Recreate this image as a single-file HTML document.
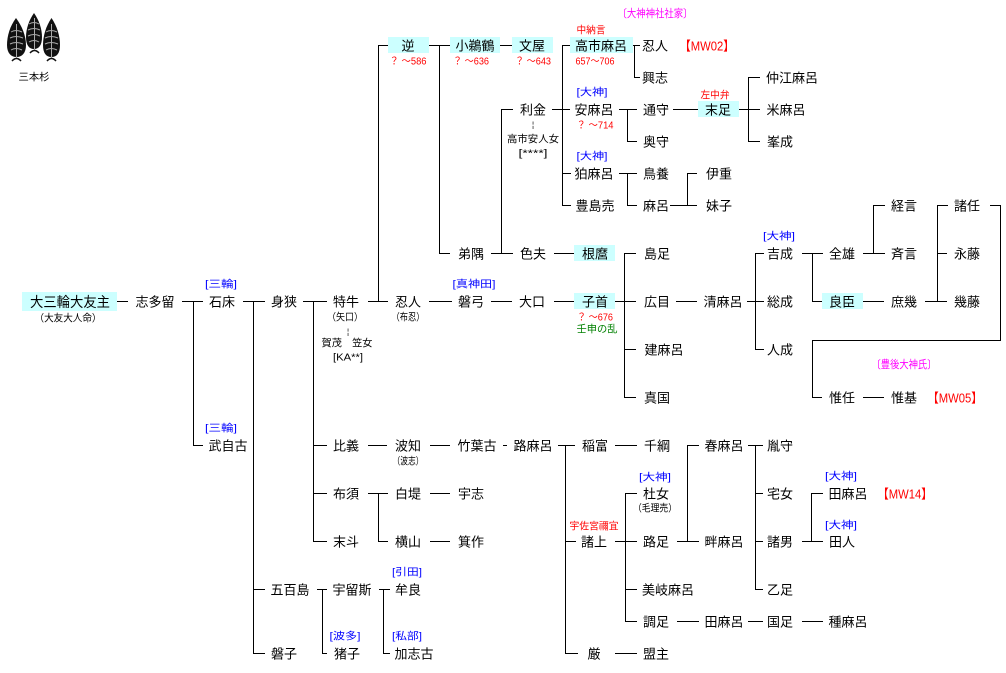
<!DOCTYPE html>
<html><head><meta charset="utf-8">
<style>
html,body{margin:0;padding:0;background:#fff;}
svg{display:block;}
text{font-family:"Liberation Sans","Noto Sans CJK JP",sans-serif;text-anchor:middle;dominant-baseline:central;fill:#000;}
.m{font-size:13px;}
.s{font-size:10px;}
.r{fill:#f00;}
.b{fill:#00f;}
.g{fill:#008000;}
.p{fill:#f0f;}
line{stroke:#000;stroke-width:1;shape-rendering:crispEdges;}
</style></head>
<body>
<svg width="1006" height="673" viewBox="0 0 1006 673" xmlns="http://www.w3.org/2000/svg">
<!-- crest -->
<g>
<path d="M16,18 C22,26 26,36 26,45 C26,53 22,57 16.5,57 C11,57 7,53 7,45 C7,36 10,26 16,18 Z" fill="#111"/>
<path d="M34,13 C39,20 42,29 42,37 C42,45 39,49 34,49 C29,49 26,45 26,37 C26,29 29,20 34,13 Z" fill="#111"/>
<path d="M51.5,18 C57,26 60,36 60,45 C60,53 57,57 51.5,57 C46,57 43,53 43,45 C43,36 46,26 51.5,18 Z" fill="#111"/>
<g stroke="#aaa" stroke-width="1" fill="none">
<line x1="16.5" y1="24" x2="16.5" y2="58" style="stroke:#aaa"/>
<line x1="34.5" y1="18" x2="34.5" y2="51" style="stroke:#aaa"/>
<line x1="51.5" y1="24" x2="51.5" y2="58" style="stroke:#aaa"/>
<path d="M11,32 Q16,29 22,32 M10,38 Q16,35 23,38 M10,44 Q16,41 23,44 M11,50 Q16,47 22,50"/>
<path d="M29,24 Q34,21 39,24 M28,30 Q34,27 40,30 M28,36 Q34,33 40,36 M29,42 Q34,39 39,42"/>
<path d="M46,32 Q51,29 57,32 M45,38 Q51,35 58,38 M45,44 Q51,41 58,44 M46,50 Q51,47 57,50"/>
</g>
<path d="M12,61 Q16.5,56 21,61 M30,53 Q34.5,48 39,53 M47,61 Q51.5,56 56,61" stroke="#111" stroke-width="1.5" fill="none"/>
</g>
<text x="34" y="78" style="font-size:10px" textLength="31" lengthAdjust="spacingAndGlyphs">三本杉</text>

<!-- highlight boxes -->
<g fill="#ccffff">
<rect x="22" y="292" width="95" height="19"/>
<rect x="388" y="37" width="41" height="16"/>
<rect x="450" y="37" width="50" height="16"/>
<rect x="512" y="37" width="41" height="16"/>
<rect x="570" y="37" width="63" height="16"/>
<rect x="698" y="101" width="41" height="16"/>
<rect x="574" y="245" width="41" height="16"/>
<rect x="574" y="293" width="41" height="16"/>
<rect x="822" y="293" width="41" height="16"/>
</g>

<!-- lines -->
<g>
<!-- row 301 -->
<line x1="117" y1="301.5" x2="128" y2="301.5"/>
<line x1="182" y1="301.5" x2="203" y2="301.5"/>
<line x1="243" y1="301.5" x2="265" y2="301.5"/>
<line x1="303" y1="301.5" x2="327" y2="301.5"/>
<line x1="368" y1="301.5" x2="388" y2="301.5"/>
<line x1="429" y1="301.5" x2="452" y2="301.5"/>
<line x1="491" y1="301.5" x2="512" y2="301.5"/>
<line x1="554" y1="301.5" x2="574" y2="301.5"/>
<line x1="615" y1="301.5" x2="636" y2="301.5"/>
<line x1="676" y1="301.5" x2="697" y2="301.5"/>
<line x1="747" y1="301.5" x2="764" y2="301.5"/>
<line x1="812" y1="301.5" x2="822" y2="301.5"/>
<line x1="863" y1="301.5" x2="884" y2="301.5"/>
<line x1="925" y1="301.5" x2="947" y2="301.5"/>
<!-- row 45 -->
<line x1="378" y1="45.5" x2="388" y2="45.5"/>
<line x1="429" y1="45.5" x2="450" y2="45.5"/>
<line x1="500" y1="45.5" x2="512" y2="45.5"/>
<line x1="562" y1="45.5" x2="570" y2="45.5"/>
<line x1="633" y1="45.5" x2="640" y2="45.5"/>
<!-- row 77 -->
<line x1="634" y1="77.5" x2="640" y2="77.5"/>
<line x1="748" y1="77.5" x2="760" y2="77.5"/>
<!-- row 109 -->
<line x1="501" y1="109.5" x2="513" y2="109.5"/>
<line x1="552" y1="109.5" x2="570" y2="109.5"/>
<line x1="619" y1="109.5" x2="637" y2="109.5"/>
<line x1="673" y1="109.5" x2="698" y2="109.5"/>
<line x1="739" y1="109.5" x2="760" y2="109.5"/>
<!-- row 141 -->
<line x1="627" y1="141.5" x2="637" y2="141.5"/>
<line x1="748" y1="141.5" x2="760" y2="141.5"/>
<!-- row 173 -->
<line x1="562" y1="173.5" x2="571" y2="173.5"/>
<line x1="619" y1="173.5" x2="637" y2="173.5"/>
<line x1="687" y1="173.5" x2="697" y2="173.5"/>
<!-- row 205 -->
<line x1="562" y1="205.5" x2="571" y2="205.5"/>
<line x1="627" y1="205.5" x2="637" y2="205.5"/>
<line x1="670" y1="205.5" x2="697" y2="205.5"/>
<line x1="873" y1="205.5" x2="885" y2="205.5"/>
<line x1="937" y1="205.5" x2="948" y2="205.5"/>
<line x1="990" y1="205.5" x2="1000" y2="205.5"/>
<!-- row 253 -->
<line x1="439" y1="253.5" x2="450" y2="253.5"/>
<line x1="491" y1="253.5" x2="513" y2="253.5"/>
<line x1="554" y1="253.5" x2="574" y2="253.5"/>
<line x1="624" y1="253.5" x2="636" y2="253.5"/>
<line x1="755" y1="253.5" x2="764" y2="253.5"/>
<line x1="802" y1="253.5" x2="823" y2="253.5"/>
<line x1="863" y1="253.5" x2="885" y2="253.5"/>
<line x1="937" y1="253.5" x2="947" y2="253.5"/>
<!-- row 340 -->
<line x1="812" y1="340.5" x2="1000.5" y2="340.5"/>
<!-- row 349 -->
<line x1="624" y1="349.5" x2="636" y2="349.5"/>
<line x1="755" y1="349.5" x2="764" y2="349.5"/>
<!-- row 397 -->
<line x1="624" y1="397.5" x2="636" y2="397.5"/>
<line x1="812" y1="397.5" x2="822" y2="397.5"/>
<line x1="863" y1="397.5" x2="884" y2="397.5"/>
<!-- row 445 -->
<line x1="193" y1="445.5" x2="203" y2="445.5"/>
<line x1="313" y1="445.5" x2="327" y2="445.5"/>
<line x1="368" y1="445.5" x2="387" y2="445.5"/>
<line x1="430" y1="445.5" x2="450" y2="445.5"/>
<line x1="503" y1="445.5" x2="507" y2="445.5"/>
<line x1="558" y1="445.5" x2="575" y2="445.5"/>
<line x1="615" y1="445.5" x2="637" y2="445.5"/>
<line x1="687" y1="445.5" x2="699" y2="445.5"/>
<line x1="748" y1="445.5" x2="763" y2="445.5"/>
<!-- row 493 -->
<line x1="313" y1="493.5" x2="327" y2="493.5"/>
<line x1="368" y1="493.5" x2="388" y2="493.5"/>
<line x1="430" y1="493.5" x2="450" y2="493.5"/>
<line x1="625" y1="493.5" x2="637" y2="493.5"/>
<line x1="755" y1="493.5" x2="763" y2="493.5"/>
<line x1="811" y1="493.5" x2="823" y2="493.5"/>
<!-- row 541 -->
<line x1="313" y1="541.5" x2="327" y2="541.5"/>
<line x1="378" y1="541.5" x2="388" y2="541.5"/>
<line x1="430" y1="541.5" x2="450" y2="541.5"/>
<line x1="565" y1="541.5" x2="576" y2="541.5"/>
<line x1="615" y1="541.5" x2="637" y2="541.5"/>
<line x1="677" y1="541.5" x2="699" y2="541.5"/>
<line x1="755" y1="541.5" x2="763" y2="541.5"/>
<line x1="802" y1="541.5" x2="823" y2="541.5"/>
<!-- row 589 -->
<line x1="253" y1="589.5" x2="265" y2="589.5"/>
<line x1="317" y1="589.5" x2="327" y2="589.5"/>
<line x1="379" y1="589.5" x2="390" y2="589.5"/>
<line x1="625" y1="589.5" x2="637" y2="589.5"/>
<line x1="755" y1="589.5" x2="763" y2="589.5"/>
<!-- row 621 -->
<line x1="625" y1="621.5" x2="637" y2="621.5"/>
<line x1="677" y1="621.5" x2="699" y2="621.5"/>
<line x1="748" y1="621.5" x2="763" y2="621.5"/>
<line x1="802" y1="621.5" x2="823" y2="621.5"/>
<!-- row 653 -->
<line x1="253" y1="653.5" x2="265" y2="653.5"/>
<line x1="322" y1="653.5" x2="327" y2="653.5"/>
<line x1="383" y1="653.5" x2="390" y2="653.5"/>
<line x1="565" y1="653.5" x2="578" y2="653.5"/>
<line x1="615" y1="653.5" x2="637" y2="653.5"/>

<!-- verticals -->
<line x1="193.5" y1="301" x2="193.5" y2="446"/>
<line x1="253.5" y1="301" x2="253.5" y2="654"/>
<line x1="313.5" y1="301" x2="313.5" y2="542"/>
<line x1="378.5" y1="45" x2="378.5" y2="302"/>
<line x1="439.5" y1="45" x2="439.5" y2="254"/>
<line x1="501.5" y1="109" x2="501.5" y2="254"/>
<line x1="562.5" y1="45" x2="562.5" y2="206"/>
<line x1="634.5" y1="45" x2="634.5" y2="78"/>
<line x1="627.5" y1="109" x2="627.5" y2="142"/>
<line x1="627.5" y1="173" x2="627.5" y2="206"/>
<line x1="687.5" y1="173" x2="687.5" y2="206"/>
<line x1="748.5" y1="77" x2="748.5" y2="142"/>
<line x1="624.5" y1="253" x2="624.5" y2="398"/>
<line x1="755.5" y1="253" x2="755.5" y2="350"/>
<line x1="812.5" y1="253" x2="812.5" y2="302"/>
<line x1="812.5" y1="340" x2="812.5" y2="398"/>
<line x1="873.5" y1="205" x2="873.5" y2="254"/>
<line x1="937.5" y1="205" x2="937.5" y2="302"/>
<line x1="1000.5" y1="205" x2="1000.5" y2="341"/>
<line x1="378.5" y1="493" x2="378.5" y2="542"/>
<line x1="565.5" y1="445" x2="565.5" y2="654"/>
<line x1="625.5" y1="493" x2="625.5" y2="622"/>
<line x1="687.5" y1="445" x2="687.5" y2="542"/>
<line x1="755.5" y1="445" x2="755.5" y2="590"/>
<line x1="811.5" y1="493" x2="811.5" y2="542"/>
<line x1="322.5" y1="589" x2="322.5" y2="654"/>
<line x1="383.5" y1="589" x2="383.5" y2="654"/>
</g>

<!-- main names -->
<g class="m">
<text x="70" y="302" style="font-size:14px" textLength="80" lengthAdjust="spacingAndGlyphs">大三輪大友主</text>
<text x="155" y="302">志多留</text>
<text x="222" y="302">石床</text>
<text x="284" y="302">身狭</text>
<text x="346" y="302">特牛</text>
<text x="408" y="302">忍人</text>
<text x="471" y="302">磐弓</text>
<text x="532" y="302">大口</text>
<text x="595" y="302">子首</text>
<text x="657" y="302">広目</text>
<text x="723" y="302">清麻呂</text>
<text x="780" y="302">総成</text>
<text x="842" y="302">良臣</text>
<text x="904" y="302">庶幾</text>
<text x="967" y="302">幾藤</text>

<text x="408" y="46">逆</text>
<text x="475" y="46">小鵜鶴</text>
<text x="532" y="46">文屋</text>
<text x="601" y="46">高市麻呂</text>
<text x="655" y="46">忍人</text>

<text x="655" y="78">興志</text>
<text x="792" y="78">仲江麻呂</text>

<text x="533" y="110">利金</text>
<text x="594" y="110">安麻呂</text>
<text x="656" y="110">通守</text>
<text x="718" y="110">末足</text>
<text x="786" y="110">米麻呂</text>

<text x="656" y="142">奥守</text>
<text x="780" y="142">峯成</text>

<text x="594" y="174">狛麻呂</text>
<text x="656" y="174">鳥養</text>
<text x="719" y="174">伊重</text>

<text x="595" y="206">豊島売</text>
<text x="656" y="206">麻呂</text>
<text x="719" y="206">妹子</text>
<text x="904" y="206">経言</text>
<text x="967" y="206">諸任</text>

<text x="471" y="254">弟隅</text>
<text x="533" y="254">色夫</text>
<text x="595" y="254">根麿</text>
<text x="657" y="254">島足</text>
<text x="780" y="254">吉成</text>
<text x="842" y="254">全雄</text>
<text x="904" y="254">斉言</text>
<text x="967" y="254">永藤</text>

<text x="664" y="350">建麻呂</text>
<text x="780" y="350">人成</text>

<text x="657" y="398">真国</text>
<text x="842" y="398">惟任</text>
<text x="904" y="398">惟基</text>

<text x="228" y="446">武自古</text>
<text x="346" y="446">比義</text>
<text x="408" y="446">波知</text>
<text x="477" y="446">竹葉古</text>
<text x="533" y="446">路麻呂</text>
<text x="595" y="446">稲富</text>
<text x="657" y="446">千綱</text>
<text x="724" y="446">春麻呂</text>
<text x="780" y="446">胤守</text>

<text x="346" y="494">布須</text>
<text x="408" y="494">白堤</text>
<text x="471" y="494">宇志</text>
<text x="656" y="494">杜女</text>
<text x="780" y="494">宅女</text>
<text x="848" y="494">田麻呂</text>

<text x="346" y="542">末斗</text>
<text x="408" y="542">横山</text>
<text x="471" y="542">箕作</text>
<text x="594" y="542">諸上</text>
<text x="656" y="542">路足</text>
<text x="724" y="542">畔麻呂</text>
<text x="780" y="542">諸男</text>
<text x="842" y="542">田人</text>

<text x="290" y="590">五百島</text>
<text x="352" y="590">宇留斯</text>
<text x="408" y="590">牟良</text>
<text x="668" y="590">美岐麻呂</text>
<text x="780" y="590">乙足</text>

<text x="656" y="622">調足</text>
<text x="724" y="622">田麻呂</text>
<text x="780" y="622">国足</text>
<text x="848" y="622">種麻呂</text>

<text x="284" y="654">磐子</text>
<text x="347" y="654">猪子</text>
<text x="414" y="654">加志古</text>
<text x="594" y="654">厳</text>
<text x="656" y="654">盟主</text>
</g>

<!-- MW tags -->
<text class="r" x="707" y="46" style="font-size:13px" textLength="55" lengthAdjust="spacingAndGlyphs">【MW02】</text>
<text class="r" x="955" y="398" style="font-size:13px" textLength="55" lengthAdjust="spacingAndGlyphs">【MW05】</text>
<text class="r" x="905" y="494" style="font-size:13px" textLength="55" lengthAdjust="spacingAndGlyphs">【MW14】</text>

<!-- small annotations -->
<g class="s">
<text class="p" x="655" y="14" style="font-size:11px" textLength="75" lengthAdjust="spacingAndGlyphs">〔大神神社社家〕</text>
<text class="r" x="591" y="31" textLength="29" lengthAdjust="spacingAndGlyphs">中納言</text>
<text class="r" x="408" y="62" textLength="37" lengthAdjust="spacingAndGlyphs">？ ～586</text>
<text class="r" x="471" y="62" textLength="36" lengthAdjust="spacingAndGlyphs">？ ～636</text>
<text class="r" x="533" y="62" textLength="36" lengthAdjust="spacingAndGlyphs">？ ～643</text>
<text class="r" x="595" y="62" textLength="39" lengthAdjust="spacingAndGlyphs">657～706</text>
<text class="b" x="592" y="93" textLength="31" lengthAdjust="spacingAndGlyphs">[大神]</text>
<text class="r" x="595" y="126" textLength="37" lengthAdjust="spacingAndGlyphs">？ ～714</text>
<text x="533" y="125" style="font-size:8px">¦</text>
<text x="533" y="140" textLength="52" lengthAdjust="spacingAndGlyphs">高市安人女</text>
<text x="533" y="154" textLength="29" lengthAdjust="spacingAndGlyphs">[****]</text>
<text class="b" x="592" y="157" textLength="31" lengthAdjust="spacingAndGlyphs">[大神]</text>
<text class="r" x="715" y="96" textLength="29" lengthAdjust="spacingAndGlyphs">左中弁</text>
<text class="b" x="779" y="237" textLength="32" lengthAdjust="spacingAndGlyphs">[大神]</text>
<text class="b" x="221" y="285" textLength="32" lengthAdjust="spacingAndGlyphs">[三輪]</text>
<text class="b" x="474" y="285" textLength="43" lengthAdjust="spacingAndGlyphs">[真神田]</text>
<text x="68" y="319" textLength="67" lengthAdjust="spacingAndGlyphs">（大友大人命）</text>
<text x="345" y="318" textLength="36" lengthAdjust="spacingAndGlyphs">（矢口）</text>
<text x="408" y="318" textLength="33" lengthAdjust="spacingAndGlyphs">（布忍）</text>
<text class="r" x="595" y="318" textLength="36" lengthAdjust="spacingAndGlyphs">？ ～676</text>
<text class="g" x="597" y="330" textLength="41" lengthAdjust="spacingAndGlyphs">壬申の乱</text>
<text x="348" y="332" style="font-size:8px">¦</text>
<text x="347" y="344" textLength="51" lengthAdjust="spacingAndGlyphs">賀茂　笠女</text>
<text x="348" y="358" textLength="30" lengthAdjust="spacingAndGlyphs">[KA**]</text>
<text class="p" x="904" y="365" style="font-size:11px" textLength="65" lengthAdjust="spacingAndGlyphs">〔豊後大神氏〕</text>
<text class="b" x="221" y="429" textLength="32" lengthAdjust="spacingAndGlyphs">[三輪]</text>
<text x="408" y="462" textLength="31" lengthAdjust="spacingAndGlyphs">（波志）</text>
<text class="b" x="655" y="478" textLength="32" lengthAdjust="spacingAndGlyphs">[大神]</text>
<text class="b" x="841" y="477" textLength="32" lengthAdjust="spacingAndGlyphs">[大神]</text>
<text x="655" y="509" textLength="44" lengthAdjust="spacingAndGlyphs">（毛理売）</text>
<text class="r" x="594" y="527" textLength="49" lengthAdjust="spacingAndGlyphs">宇佐宮禰宜</text>
<text class="b" x="841" y="526" textLength="32" lengthAdjust="spacingAndGlyphs">[大神]</text>
<text class="b" x="407" y="573" textLength="30" lengthAdjust="spacingAndGlyphs">[引田]</text>
<text class="b" x="345" y="637" textLength="31" lengthAdjust="spacingAndGlyphs">[波多]</text>
<text class="b" x="407" y="637" textLength="30" lengthAdjust="spacingAndGlyphs">[私部]</text>
</g>
</svg>
</body></html>
